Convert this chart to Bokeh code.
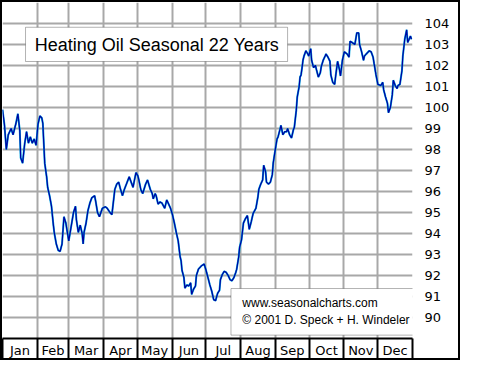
from bokeh.plotting import figure
from bokeh.models import Range1d, FixedTicker, BoxAnnotation, Label
from bokeh.embed import file_html
from bokeh.resources import INLINE

# Seasonal pattern (day of year, index value)
days = [0, 1.7, 3.4, 5.1, 7.7, 9.4, 12, 13.7, 15.4, 16.2, 17.9, 19.7, 21.4, 23.1, 24.8, 26.5, 28.2, 29.9,
        31.6, 33.3, 35, 35.9, 37.6, 39.3, 40.2, 41.9, 43.6, 45.3, 46.2, 47.9, 49.6, 51.3, 53, 54.7, 56.4,
        57.3, 59, 60.7, 63.2, 65, 65.8, 67.5, 69.2, 70.9, 71.8, 72.6, 74.4, 76.1, 77.8, 79.5, 82, 82.9,
        84.6, 86.3, 88.9, 91.5, 93.2, 95.7, 97.4, 100, 101.7, 103.4, 105.1, 106.8, 108.5, 110.3, 112.8,
        114.5, 116.2, 118.8, 120.5, 121.4, 123.1, 124.8, 127.4, 129.1, 131.6, 133.3, 134.2, 135.9, 136.8,
        138.5, 140.2, 141.9, 144.4, 146.2, 147.9, 149.6, 151.3, 153, 154.7, 156.4, 158.1, 159, 159.8,
        161.5, 162.4, 164.1, 165.8, 167.5, 168.4, 170.1, 171.8, 172.6, 174.4, 176.9, 179.5, 181.2, 182.9,
        184.6, 186.3, 188, 189.7, 191.5, 193.2, 194, 195.7, 197.4, 199.1, 200.9, 202.6, 204.3, 206, 207.7,
        208.5, 210.3, 211.1, 212.8, 214.5, 216.2, 218, 219.7, 221.4, 223.1, 225.6, 227.4, 228.2, 229.9,
        231.6, 232.5, 234.2, 235, 236.8, 238.5, 240.2, 241, 242.7, 244.4, 245.3, 247, 247.9, 249.6, 251.3,
        253, 253.8, 255.6, 257.3, 259, 259.8, 261.5, 262.4, 264.1, 264.9, 265.8, 266.7, 267.5, 268.4,
        270.1, 271.8, 272.6, 274.4, 275.2, 276.9, 278.6, 279.5, 281.2, 282.9, 283.8, 285.5, 287.2, 288,
        289.7, 291.5, 292.3, 294, 295.7, 296.6, 298.3, 300, 300.9, 302.6, 304.3, 306.8, 308.5, 309.4,
        311.1, 313.7, 315.4, 317.1, 317.9, 319.7, 321.4, 322.2, 323.9, 326.5, 328.2, 329.9, 330.8, 332.5,
        334.2, 336.8, 338.5, 339.3, 341, 342.7, 343.6, 345.3, 347, 347.9, 349.6, 351.3, 352.1, 353.8,
        355.6, 356.4, 358.1, 359.8, 360.7, 362.4, 363.2, 364.1]
values = [99.9, 99.2, 98.0, 98.7, 99.0, 98.7, 99.25, 99.7, 98.9, 97.6, 97.35, 98.26, 98.85, 98.3, 98.6,
          98.3, 98.5, 98.2, 99.2, 99.6, 99.5, 99.25, 97.35, 96.7, 96.2, 95.8, 95.3, 94.4, 94.0, 93.5, 93.2,
          93.15, 93.5, 94.8, 94.5, 94.2, 93.65, 94.2, 95.0, 95.3, 94.65, 94.05, 94.4, 94.0, 93.5, 94.05,
          94.5, 95.1, 95.45, 95.7, 95.8, 95.55, 95.0, 94.8, 95.2, 95.27, 95.2, 95.0, 94.9, 96.1, 96.35,
          96.45, 96.1, 95.8, 96.1, 96.35, 96.7, 96.45, 96.2, 96.9, 96.75, 96.55, 96.1, 95.9, 96.35, 96.55,
          96.1, 95.9, 95.65, 95.9, 95.8, 95.4, 95.5, 95.45, 95.2, 95.6, 95.4, 95.2, 94.9, 94.5, 94.05,
          93.65, 92.9, 92.7, 92.25, 91.9, 91.4, 91.55, 91.5, 91.65, 91.1, 91.35, 91.5, 92.0, 92.3, 92.45,
          92.55, 92.25, 91.9, 91.55, 91.25, 90.85, 90.8, 91.15, 91.3, 91.8, 92.05, 92.2, 92.15, 92.0, 91.8,
          91.75, 91.9, 92.15, 92.3, 92.9, 93.35, 93.7, 94.5, 94.7, 94.85, 94.2, 94.55, 94.95, 95.2, 95.75,
          96.1, 96.35, 96.55, 97.25, 96.95, 96.45, 96.35, 96.45, 96.8, 97.35, 97.95, 98.5, 98.6, 98.95,
          99.15, 98.7, 98.85, 98.85, 99.0, 98.7, 98.55, 98.95, 99.05, 99.85, 100.5, 101.0, 101.45, 101.55,
          101.9, 102.25, 102.45, 102.7, 102.55, 102.45, 102.8, 102.25, 101.9, 102.0, 101.8, 101.45, 101.65,
          101.95, 102.25, 102.45, 102.55, 102.4, 102.2, 101.55, 101.2, 101.1, 101.5, 102.2, 101.8, 101.5,
          102.25, 102.65, 102.55, 102.4, 103.15, 103.1, 103.0, 103.55, 103.55, 103.0, 102.65, 102.25,
          102.45, 102.55, 102.7, 102.65, 102.4, 102.1, 101.55, 101.1, 101.05, 101.2, 100.85, 100.5, 100.2,
          99.75, 100.0, 100.6, 101.3, 101.05, 100.9, 101.05, 101.1, 101.75, 102.45, 103.25, 103.7, 103.1,
          103.3, 103.4, 103.25]

months = ["Jan", "Feb", "Mar", "Apr", "May", "Jun", "Jul", "Aug", "Sep", "Oct", "Nov", "Dec"]
month_starts = [0, 31, 59, 90, 120, 151, 181, 212, 243, 273, 304, 334, 365]
y_ticks = list(range(90, 105))
title_text = "Heating Oil Seasonal 22 Years"
credit_lines = ["www.seasonalcharts.com", "\u00a9 2001 D. Speck + H. Windeler"]

month_mids = [(month_starts[i] + month_starts[i + 1]) / 2.0 for i in range(12)]

p = figure(width=460, height=360, output_backend="svg", toolbar_location=None,
           x_range=Range1d(0, 365), y_range=Range1d(89, 105),
           y_axis_location="right",
           min_border_left=0, min_border_top=0, min_border_right=50, min_border_bottom=24)
p.styles = {"border": "2px solid black"}
p.outline_line_color = None
p.background_fill_color = "white"
p.border_fill_color = "white"

# grid
p.xgrid.ticker = FixedTicker(ticks=month_starts[1:])
p.ygrid.ticker = FixedTicker(ticks=list(range(90, 105)))
p.xgrid.grid_line_color = "#a8a8a8"
p.ygrid.grid_line_color = "#a8a8a8"
p.xgrid.grid_line_width = 2
p.ygrid.grid_line_width = 2

# x axis: month names centred in cells, separators as minor ticks
xa = p.xaxis[0]
xa.ticker = FixedTicker(ticks=month_mids, minor_ticks=month_starts)
xa.major_label_overrides = {m: name for m, name in zip(month_mids, months)}
xa.major_tick_line_color = None
xa.major_tick_in = 0
xa.major_tick_out = 0
xa.minor_tick_in = 0
xa.minor_tick_out = 24
xa.minor_tick_line_color = "black"
xa.minor_tick_line_width = 2
xa.axis_line_color = "black"
xa.axis_line_width = 2
xa.major_label_standoff = -20
xa.major_label_text_font = "DejaVu Sans"
xa.major_label_text_font_size = "13px"
xa.major_label_text_color = "black"

ya = p.yaxis[0]
ya.ticker = FixedTicker(ticks=y_ticks)
ya.major_tick_line_color = None
ya.minor_tick_line_color = None
ya.major_tick_in = 0
ya.major_tick_out = 0
ya.axis_line_color = None
ya.major_label_standoff = 12
ya.major_label_text_font = "DejaVu Sans"
ya.major_label_text_font_size = "13px"
ya.major_label_text_color = "black"

# series
p.line(days, values, line_color="#00a8e0", line_width=2.0)
p.line(days, values, line_color="#0000a0", line_width=1.2)

# title box
p.add_layout(BoxAnnotation(left=20.5, right=253.8, top=103.82, bottom=102.19,
                           fill_color="white", fill_alpha=1, line_color="black", line_width=1))
p.add_layout(Label(x=137.5, y=102.98, text=title_text, text_align="center", text_baseline="middle",
                   text_font="Liberation Sans", text_font_size="18px", text_color="black"))

# credit box
p.add_layout(BoxAnnotation(left=203.4, right=368, top=91.38, bottom=89.16,
                           fill_color="white", fill_alpha=1, line_color="black", line_width=1))
p.add_layout(Label(x=213.5, y=90.68, text=credit_lines[0], text_align="left", text_baseline="middle",
                   text_font="Liberation Sans", text_font_size="12px", text_color="black"))
p.add_layout(Label(x=213.5, y=89.86, text=credit_lines[1], text_align="left", text_baseline="middle",
                   text_font="Liberation Sans", text_font_size="12px", text_color="black"))

open("out.html", "w").write(file_html(p, INLINE))
